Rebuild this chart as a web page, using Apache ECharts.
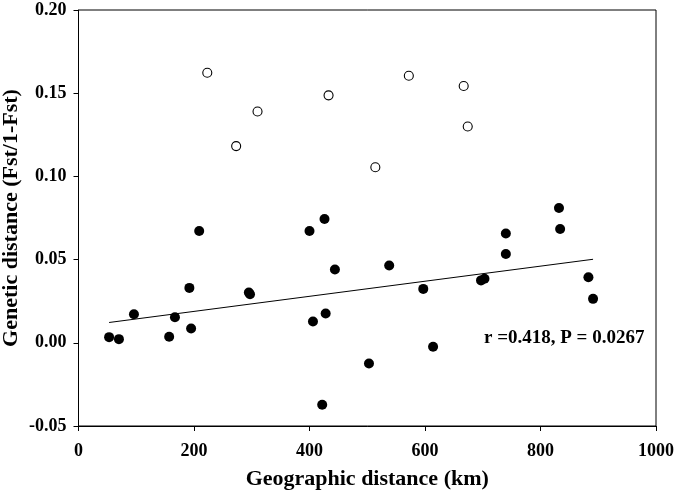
<!DOCTYPE html>
<html><head><meta charset="utf-8">
<script src="https://cdn.jsdelivr.net/npm/echarts@6/dist/echarts.min.js"></script>
<style>html,body{margin:0;padding:0;background:#fff}#c{width:675px;height:492px}</style>
</head><body><div id="c"></div>
<script>
// Filled points: [geographic distance km, genetic distance]
const filledX = [53, 70, 96, 157, 167, 192, 195, 209, 295, 297, 400, 406, 422, 426, 428, 444, 503, 538, 597, 614, 697, 703, 740, 740, 832, 834, 883, 891];
const filledY = [0.0034, 0.0022, 0.0172, 0.0036, 0.0154, 0.033, 0.0086, 0.0672, 0.0302, 0.0292, 0.0672, 0.0128, -0.0372, 0.0744, 0.0176, 0.044, -0.0124, 0.0465, 0.0324, -0.0024, 0.0375, 0.0385, 0.0534, 0.0657, 0.081, 0.0684, 0.0394, 0.0264];
// Open points
const openX = [223, 273, 310, 433, 514, 572, 667, 674];
const openY = [0.1623, 0.1182, 0.139, 0.1487, 0.1055, 0.1605, 0.1543, 0.130];
// Regression line endpoints
const lineX = [53, 891];
const lineY = [0.0122, 0.0502];
const xTicks = [0, 200, 400, 600, 800, 1000];
const yTicks = [-0.05, 0.00, 0.05, 0.10, 0.15, 0.20];
const annotation = 'r =0.418, P = 0.0267';

const zip = (a, b) => a.map((v, i) => [v, b[i]]);
const font = '"Liberation Serif", "Times New Roman", serif';
const chart = echarts.init(document.getElementById('c'), null, {renderer: 'canvas'});
chart.setOption({
  animation: false,
  backgroundColor: '#fff',
  grid: {left: 78.5, right: 19, top: 10, bottom: 66, containLabel: false, outerBoundsMode: 'none',
    show: true, borderColor: '#000', borderWidth: 1, backgroundColor: 'transparent'},
  xAxis: {
    type: 'value', min: xTicks[0], max: xTicks[xTicks.length - 1], interval: 200,
    name: 'Geographic distance (km)', nameLocation: 'middle', nameGap: 42, nameMoveOverlap: false,
    nameTextStyle: {fontFamily: font, fontWeight: 'bold', fontSize: 22, color: '#000'},
    axisLine: {onZero: false, lineStyle: {color: '#000', width: 1}},
    axisTick: {show: true, inside: false, length: 5, lineStyle: {color: '#000'}},
    axisLabel: {fontFamily: font, fontWeight: 'bold', fontSize: 18, color: '#000', margin: 16,
      formatter: v => String(v)},
    splitLine: {show: false}
  },
  yAxis: {
    type: 'value', min: yTicks[0], max: yTicks[yTicks.length - 1], interval: 0.05,
    name: 'Genetic distance (Fst/1-Fst)', nameLocation: 'middle', nameGap: 56, nameMoveOverlap: false,
    nameTextStyle: {fontFamily: font, fontWeight: 'bold', fontSize: 22, color: '#000'},
    axisLine: {onZero: false, lineStyle: {color: '#000', width: 1}},
    axisTick: {show: true, inside: false, length: 5, lineStyle: {color: '#000'}},
    axisLabel: {fontFamily: font, fontWeight: 'bold', fontSize: 18, color: '#000', margin: 12,
      formatter: v => v.toFixed(2)},
    splitLine: {show: false}
  },
  series: [
    {type: 'line', data: zip(lineX, lineY), symbol: 'none', lineStyle: {color: '#000', width: 1}, z: 1},
    {type: 'scatter', data: zip(openX, openY), symbol: 'circle', symbolSize: 9,
      itemStyle: {color: '#fff', borderColor: '#000', borderWidth: 1.1, opacity: 1}, z: 3},
    {type: 'scatter', data: zip(filledX, filledY), symbol: 'circle', symbolSize: 10,
      itemStyle: {color: '#000', opacity: 1}, z: 4}
  ],
  graphic: [{
    type: 'text', left: 484, top: 329,
    style: {text: annotation, font: 'bold 19px ' + font, fill: '#000'}
  }]
});
</script></body></html>
